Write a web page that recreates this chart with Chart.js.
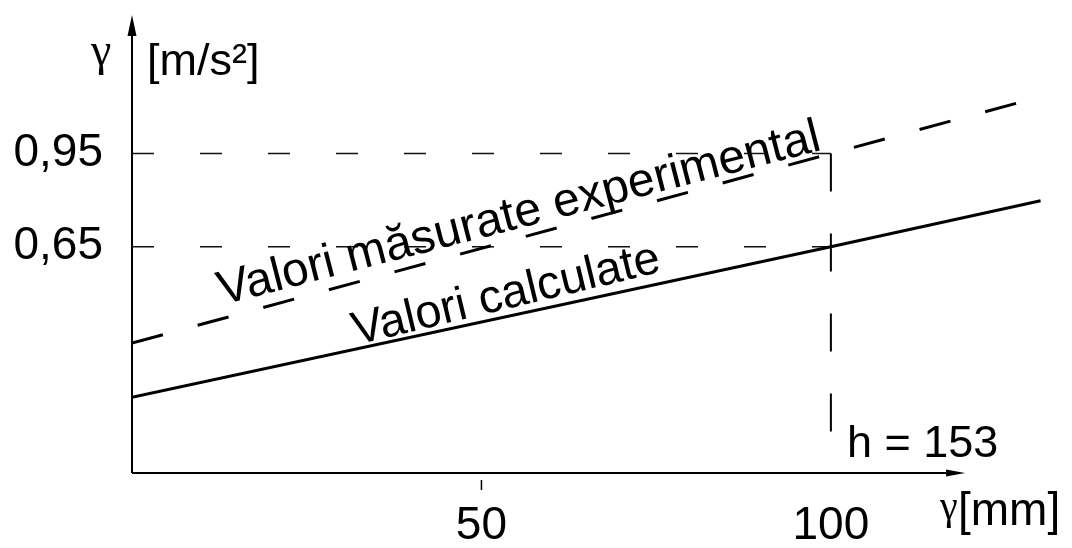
<!DOCTYPE html>
<html>
<head>
<meta charset="utf-8">
<title>γ în funcție de y</title>
<script src="https://cdn.jsdelivr.net/npm/chart.js@4.4.1/dist/chart.umd.min.js"></script>
<style>
  html, body { margin: 0; padding: 0; background: #fff; }
  #wrap { width: 1072px; height: 548px; }
</style>
</head>
<body>
<div id="wrap"><canvas id="chart" width="1072" height="548"></canvas></div>
<script>
// Positions along the travel, mm
const xPositions = [0, 100, 130];
// Calculated acceleration, m/s²
const calculatedValues = [0.166, 0.65, 0.798];
// Experimentally measured acceleration, m/s²
const measuredValues = [0.34, 0.95, 1.133];

const yTickValues = [0.65, 0.95];
const yTickLabels = ['0,65', '0,95'];
const xTickValues = [50, 100];
const xTickLabels = ['50', '100'];

const refX = 100;            // h = 153 reference position
const heightLabel = 'h = 153';
const measuredLabel = 'Valori măsurate experimental';
const calculatedLabel = 'Valori calculate';

const X_MIN = 0, X_MAX = 134.5, X_AXIS_END = 119.2;
const Y_MIN = -0.078, Y_MAX = 1.396;

const FONT = '"Liberation Sans", Arial, sans-serif';
const SERIF = '"Liberation Serif", "Times New Roman", serif';

const pts = (xs, ys) => xs.map((x, i) => ({ x, y: ys[i] }));

const decorations = {
  id: 'decorations',
  afterDatasetsDraw(chart) {
    const { ctx, chartArea: a, scales: { x, y } } = chart;
    const x0 = x.getPixelForValue(X_MIN);
    const yb = y.getPixelForValue(Y_MIN);
    const xe = x.getPixelForValue(X_AXIS_END);
    ctx.save();
    ctx.strokeStyle = '#000';
    ctx.fillStyle = '#000';
    ctx.lineWidth = 2;

    // vertical axis with arrow head
    ctx.beginPath();
    ctx.moveTo(x0, yb);
    ctx.lineTo(x0, a.top + 12);
    ctx.stroke();
    ctx.beginPath();
    ctx.moveTo(x0, a.top);
    ctx.lineTo(x0 - 4.5, a.top + 21);
    ctx.lineTo(x0 + 4.5, a.top + 21);
    ctx.closePath();
    ctx.fill();

    // horizontal axis with arrow head
    ctx.beginPath();
    ctx.moveTo(x0, yb);
    ctx.lineTo(xe - 10, yb);
    ctx.stroke();
    ctx.beginPath();
    ctx.moveTo(xe, yb);
    ctx.lineTo(xe - 19, yb - 3.5);
    ctx.lineTo(xe - 19, yb + 3.5);
    ctx.closePath();
    ctx.fill();

    // small tick under the axis at 50
    ctx.lineWidth = 1.5;
    const t50 = x.getPixelForValue(xTickValues[0]);
    ctx.beginPath();
    ctx.moveTo(t50, yb + 7);
    ctx.lineTo(t50, yb + 17);
    ctx.stroke();

    // axis titles
    ctx.textBaseline = 'alphabetic';
    ctx.textAlign = 'left';
    ctx.font = '46px ' + SERIF;
    ctx.fillText('γ', 91, 65);
    ctx.font = '45px ' + FONT;
    ctx.fillText('[m/s²]', 147, 75);

    ctx.font = '40px ' + SERIF;
    ctx.fillText('γ', 940, 519);
    ctx.font = '46px ' + FONT;
    ctx.fillText('[mm]', 958, 525);

    // reference height label
    ctx.font = '45px ' + FONT;
    ctx.fillText(heightLabel, x.getPixelForValue(refX) + 16, 457);

    // labels along the two lines
    const along = (text, px, py, deg, size) => {
      ctx.save();
      ctx.translate(px, py);
      ctx.rotate(-deg * Math.PI / 180);
      ctx.font = size + 'px ' + FONT;
      ctx.fillText(text, 0, 0);
      ctx.restore();
    };
    along(measuredLabel, 222, 305, 14.5, 48);
    along(calculatedLabel, 356, 345, 13.5, 47);

    ctx.restore();
  }
};

new Chart(document.getElementById('chart'), {
  type: 'line',
  data: {
    datasets: [
      {
        label: 'Valori măsurate experimental',
        data: pts(xPositions, measuredValues),
        borderColor: '#000',
        borderWidth: 3,
        borderDash: [32, 36],
        pointRadius: 0,
        tension: 0
      },
      {
        label: 'Valori calculate',
        data: pts(xPositions, calculatedValues),
        borderColor: '#000',
        borderWidth: 3,
        pointRadius: 0,
        tension: 0
      },
      {
        label: '0,95',
        data: [{ x: X_MIN, y: yTickValues[1] }, { x: refX, y: yTickValues[1] }],
        borderColor: '#111',
        borderWidth: 1.5,
        borderDash: [22, 46],
        pointRadius: 0
      },
      {
        label: '0,65',
        data: [{ x: X_MIN, y: yTickValues[0] }, { x: refX, y: yTickValues[0] }],
        borderColor: '#111',
        borderWidth: 1.5,
        borderDash: [22, 46],
        pointRadius: 0
      },
      {
        label: 'h',
        data: [{ x: refX, y: yTickValues[1] }, { x: refX, y: Y_MIN }],
        borderColor: '#000',
        borderWidth: 2,
        borderDash: [38, 42],
        pointRadius: 0
      }
    ]
  },
  options: {
    responsive: false,
    animation: false,
    devicePixelRatio: 1,
    layout: { padding: { top: 15, right: 0, bottom: 0, left: 0 } },
    plugins: { legend: { display: false }, tooltip: { enabled: false } },
    scales: {
      x: {
        type: 'linear',
        min: X_MIN,
        max: X_MAX,
        grid: { display: false, drawTicks: false },
        border: { display: false },
        afterFit: s => { s.height = 75; s.paddingLeft = 0; s.paddingRight = 0; },
        afterBuildTicks: s => { s.ticks = xTickValues.map(v => ({ value: v })); },
        ticks: {
          color: '#000',
          padding: 26,
          maxRotation: 0,
          font: { family: FONT, size: 46 },
          callback: v => xTickLabels[xTickValues.indexOf(v)]
        }
      },
      y: {
        type: 'linear',
        min: Y_MIN,
        max: Y_MAX,
        grid: { display: false, drawTicks: false },
        border: { display: false },
        afterFit: s => { s.width = 132; s.paddingTop = 0; s.paddingBottom = 0; },
        afterBuildTicks: s => { s.ticks = yTickValues.map(v => ({ value: v })); },
        ticks: {
          color: '#000',
          padding: 29,
          font: { family: FONT, size: 46 },
          callback: v => yTickLabels[yTickValues.indexOf(v)]
        }
      }
    }
  },
  plugins: [decorations]
});
</script>
</body>
</html>
